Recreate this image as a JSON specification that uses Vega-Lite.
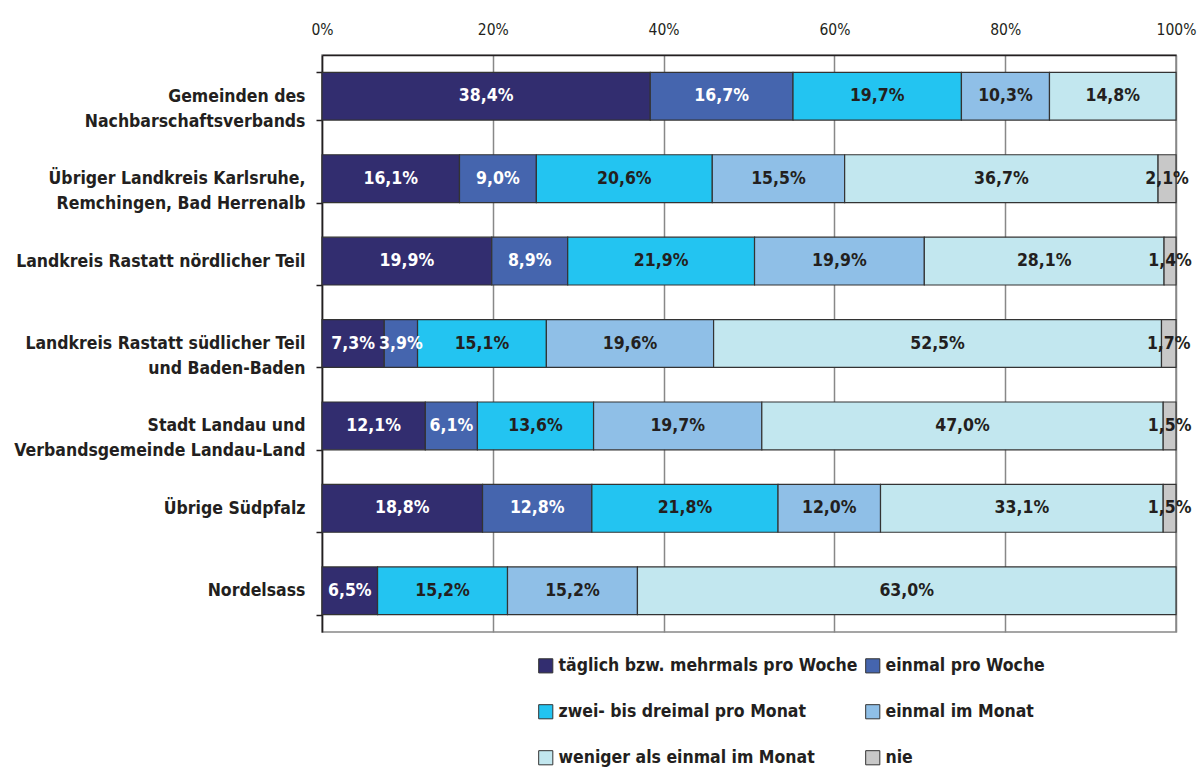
{
  "$schema": "https://vega.github.io/schema/vega-lite/v6.json",
  "autosize": {"type": "none"},
  "padding": {"left": 322, "top": 55, "right": 22, "bottom": 135},
  "width": 854,
  "height": 577,
  "config": {
    "font": "DejaVu Sans Condensed, Roboto, sans-serif",
    "view": {"stroke": "#888888", "strokeWidth": 1.5}
  },
  "data": {
    "values": [
      {"region": "Gemeinden des|Nachbarschaftsverbands", "cat": "täglich bzw. mehrmals pro Woche", "o": 1, "v": 38.4},
      {"region": "Gemeinden des|Nachbarschaftsverbands", "cat": "einmal pro Woche", "o": 2, "v": 16.7},
      {"region": "Gemeinden des|Nachbarschaftsverbands", "cat": "zwei- bis dreimal pro Monat", "o": 3, "v": 19.7},
      {"region": "Gemeinden des|Nachbarschaftsverbands", "cat": "einmal im Monat", "o": 4, "v": 10.3},
      {"region": "Gemeinden des|Nachbarschaftsverbands", "cat": "weniger als einmal im Monat", "o": 5, "v": 14.8},

      {"region": "Übriger Landkreis Karlsruhe,|Remchingen, Bad Herrenalb", "cat": "täglich bzw. mehrmals pro Woche", "o": 1, "v": 16.1},
      {"region": "Übriger Landkreis Karlsruhe,|Remchingen, Bad Herrenalb", "cat": "einmal pro Woche", "o": 2, "v": 9.0},
      {"region": "Übriger Landkreis Karlsruhe,|Remchingen, Bad Herrenalb", "cat": "zwei- bis dreimal pro Monat", "o": 3, "v": 20.6},
      {"region": "Übriger Landkreis Karlsruhe,|Remchingen, Bad Herrenalb", "cat": "einmal im Monat", "o": 4, "v": 15.5},
      {"region": "Übriger Landkreis Karlsruhe,|Remchingen, Bad Herrenalb", "cat": "weniger als einmal im Monat", "o": 5, "v": 36.7},
      {"region": "Übriger Landkreis Karlsruhe,|Remchingen, Bad Herrenalb", "cat": "nie", "o": 6, "v": 2.1},

      {"region": "Landkreis Rastatt nördlicher Teil", "cat": "täglich bzw. mehrmals pro Woche", "o": 1, "v": 19.9},
      {"region": "Landkreis Rastatt nördlicher Teil", "cat": "einmal pro Woche", "o": 2, "v": 8.9},
      {"region": "Landkreis Rastatt nördlicher Teil", "cat": "zwei- bis dreimal pro Monat", "o": 3, "v": 21.9},
      {"region": "Landkreis Rastatt nördlicher Teil", "cat": "einmal im Monat", "o": 4, "v": 19.9},
      {"region": "Landkreis Rastatt nördlicher Teil", "cat": "weniger als einmal im Monat", "o": 5, "v": 28.1},
      {"region": "Landkreis Rastatt nördlicher Teil", "cat": "nie", "o": 6, "v": 1.4},

      {"region": "Landkreis Rastatt südlicher Teil|und Baden-Baden", "cat": "täglich bzw. mehrmals pro Woche", "o": 1, "v": 7.3},
      {"region": "Landkreis Rastatt südlicher Teil|und Baden-Baden", "cat": "einmal pro Woche", "o": 2, "v": 3.9},
      {"region": "Landkreis Rastatt südlicher Teil|und Baden-Baden", "cat": "zwei- bis dreimal pro Monat", "o": 3, "v": 15.1},
      {"region": "Landkreis Rastatt südlicher Teil|und Baden-Baden", "cat": "einmal im Monat", "o": 4, "v": 19.6},
      {"region": "Landkreis Rastatt südlicher Teil|und Baden-Baden", "cat": "weniger als einmal im Monat", "o": 5, "v": 52.5},
      {"region": "Landkreis Rastatt südlicher Teil|und Baden-Baden", "cat": "nie", "o": 6, "v": 1.7},

      {"region": "Stadt Landau und|Verbandsgemeinde Landau-Land", "cat": "täglich bzw. mehrmals pro Woche", "o": 1, "v": 12.1},
      {"region": "Stadt Landau und|Verbandsgemeinde Landau-Land", "cat": "einmal pro Woche", "o": 2, "v": 6.1},
      {"region": "Stadt Landau und|Verbandsgemeinde Landau-Land", "cat": "zwei- bis dreimal pro Monat", "o": 3, "v": 13.6},
      {"region": "Stadt Landau und|Verbandsgemeinde Landau-Land", "cat": "einmal im Monat", "o": 4, "v": 19.7},
      {"region": "Stadt Landau und|Verbandsgemeinde Landau-Land", "cat": "weniger als einmal im Monat", "o": 5, "v": 47.0},
      {"region": "Stadt Landau und|Verbandsgemeinde Landau-Land", "cat": "nie", "o": 6, "v": 1.5},

      {"region": "Übrige Südpfalz", "cat": "täglich bzw. mehrmals pro Woche", "o": 1, "v": 18.8},
      {"region": "Übrige Südpfalz", "cat": "einmal pro Woche", "o": 2, "v": 12.8},
      {"region": "Übrige Südpfalz", "cat": "zwei- bis dreimal pro Monat", "o": 3, "v": 21.8},
      {"region": "Übrige Südpfalz", "cat": "einmal im Monat", "o": 4, "v": 12.0},
      {"region": "Übrige Südpfalz", "cat": "weniger als einmal im Monat", "o": 5, "v": 33.1},
      {"region": "Übrige Südpfalz", "cat": "nie", "o": 6, "v": 1.5},

      {"region": "Nordelsass", "cat": "täglich bzw. mehrmals pro Woche", "o": 1, "v": 6.5},
      {"region": "Nordelsass", "cat": "zwei- bis dreimal pro Monat", "o": 3, "v": 15.2},
      {"region": "Nordelsass", "cat": "einmal im Monat", "o": 4, "v": 15.2},
      {"region": "Nordelsass", "cat": "weniger als einmal im Monat", "o": 5, "v": 63.0}
    ]
  },
  "transform": [
    {"stack": "v", "groupby": ["region"], "sort": [{"field": "o"}], "offset": "normalize", "as": ["x0", "x1"]},
    {"calculate": "(datum.x0 + datum.x1) / 2", "as": "xm"},
    {"calculate": "replace(format(datum.v, '.1f'), '.', ',') + '%'", "as": "label"}
  ],
  "encoding": {
    "y": {
      "field": "region",
      "type": "nominal",
      "sort": null,
      "title": null,
      "scale": {"paddingInner": 0.42, "paddingOuter": 0.21},
      "axis": {
        "labelExpr": "split(datum.label, '|')",
        "labelFontSize": 17.5,
        "labelFontWeight": "bold",
        "labelColor": "#231f20",
        "labelLineHeight": 25,
        "labelPadding": 11,
        "labelLimit": 400,
        "tickBand": "extent",
        "tickSize": 6,
        "tickColor": "#231f20",
        "tickWidth": 1.5,
        "domainColor": "#231f20",
        "domainWidth": 1.5,
        "grid": false
      }
    }
  },
  "layer": [
    {
      "mark": {"type": "bar", "stroke": "#333333", "strokeWidth": 1.2},
      "encoding": {
        "x": {
          "field": "x0",
          "type": "quantitative",
          "scale": {"domain": [0, 1]},
          "title": null,
          "axis": {
            "orient": "top",
            "format": ".0%",
            "values": [0, 0.2, 0.4, 0.6, 0.8, 1],
            "ticks": false,
            "labelFontSize": 15.5,
            "labelColor": "#231f20",
            "labelPadding": 18,
            "labelFlush": false,
            "domainColor": "#231f20",
            "domainWidth": 1.5,
            "grid": true,
            "gridColor": "#888888",
            "gridWidth": 1.5
          }
        },
        "x2": {"field": "x1"},
        "color": {
          "field": "cat",
          "type": "nominal",
          "scale": {
            "domain": ["täglich bzw. mehrmals pro Woche", "einmal pro Woche", "zwei- bis dreimal pro Monat", "einmal im Monat", "weniger als einmal im Monat", "nie"],
            "range": ["#322d6f", "#4565ae", "#23c4f1", "#8fbfe7", "#c2e7ef", "#c8c8c8"]
          },
          "legend": {
            "title": null,
            "orient": "none",
            "legendX": 215,
            "legendY": 602,
            "direction": "horizontal",
            "columns": 2,
            "columnPadding": 5,
            "rowPadding": 27,
            "symbolType": "square",
            "symbolSize": 200,
            "symbolStrokeColor": "#333333",
            "symbolStrokeWidth": 1,
            "symbolOpacity": 1,
            "labelFontSize": 17.5,
            "labelFontWeight": "bold",
            "labelColor": "#231f20",
            "labelOffset": 4,
            "labelLimit": 400
          }
        }
      }
    },
    {
      "mark": {"type": "text", "fontSize": 17.5, "fontWeight": "bold", "baseline": "middle"},
      "encoding": {
        "x": {"field": "xm", "type": "quantitative"},
        "text": {"field": "label"},
        "color": {"condition": {"test": "datum.o <= 2", "value": "white"}, "value": "#231f20"}
      }
    }
  ]
}
